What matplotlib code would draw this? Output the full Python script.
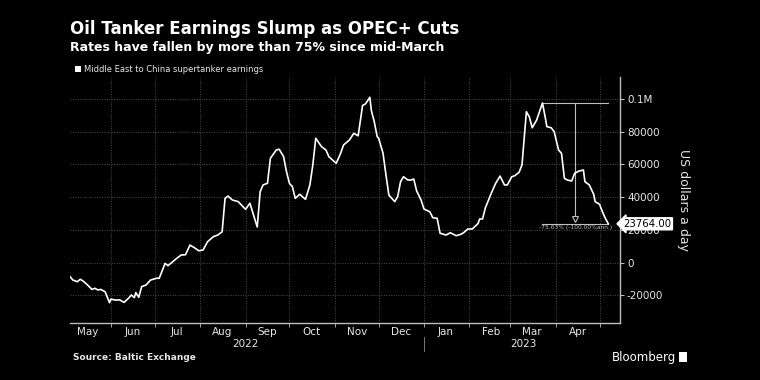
import matplotlib
matplotlib.use('Agg')
import matplotlib.pyplot as plt
import matplotlib.dates as mdates
import matplotlib.transforms as mtransforms
from matplotlib.patches import Rectangle
from matplotlib.ticker import MultipleLocator, FuncFormatter, NullFormatter
import pandas as pd

# Middle East to China supertanker earnings (US dollars a day)
dates = [
    "2022-05-04", "2022-05-06", "2022-05-09", "2022-05-11", "2022-05-13", "2022-05-16",
    "2022-05-19", "2022-05-21", "2022-05-23", "2022-05-25", "2022-05-28", "2022-05-31",
    "2022-06-01", "2022-06-04", "2022-06-07", "2022-06-10", "2022-06-13", "2022-06-15",
    "2022-06-17", "2022-06-18", "2022-06-20", "2022-06-22", "2022-06-25", "2022-06-28",
    "2022-07-02", "2022-07-04", "2022-07-08", "2022-07-10", "2022-07-14", "2022-07-16",
    "2022-07-19", "2022-07-22", "2022-07-25", "2022-07-28", "2022-07-31", "2022-08-03",
    "2022-08-06", "2022-08-10", "2022-08-13", "2022-08-16", "2022-08-18", "2022-08-20",
    "2022-08-23", "2022-08-27", "2022-09-01", "2022-09-04", "2022-09-09", "2022-09-11",
    "2022-09-13", "2022-09-16", "2022-09-18", "2022-09-22", "2022-09-24", "2022-09-27",
    "2022-09-29", "2022-10-01", "2022-10-03", "2022-10-05", "2022-10-08", "2022-10-12",
    "2022-10-15", "2022-10-17", "2022-10-19", "2022-10-23", "2022-10-26", "2022-10-28",
    "2022-11-02", "2022-11-05", "2022-11-07", "2022-11-11", "2022-11-14", "2022-11-17",
    "2022-11-20", "2022-11-22", "2022-11-25", "2022-11-26", "2022-11-28", "2022-11-30",
    "2022-12-01", "2022-12-04", "2022-12-06", "2022-12-08", "2022-12-12", "2022-12-14",
    "2022-12-16", "2022-12-18", "2022-12-21", "2022-12-23", "2022-12-25", "2022-12-27",
    "2022-12-30", "2023-01-01", "2023-01-05", "2023-01-07", "2023-01-10", "2023-01-12",
    "2023-01-16", "2023-01-19", "2023-01-23", "2023-01-26", "2023-01-28", "2023-01-31",
    "2023-02-03", "2023-02-07", "2023-02-08", "2023-02-10", "2023-02-12", "2023-02-16",
    "2023-02-19", "2023-02-22", "2023-02-25", "2023-02-27", "2023-03-02", "2023-03-04",
    "2023-03-07", "2023-03-09", "2023-03-12", "2023-03-14", "2023-03-16", "2023-03-19",
    "2023-03-23", "2023-03-25", "2023-03-26", "2023-03-29", "2023-03-31", "2023-04-03",
    "2023-04-05", "2023-04-07", "2023-04-09", "2023-04-12", "2023-04-14", "2023-04-17",
    "2023-04-20", "2023-04-21", "2023-04-24", "2023-04-27", "2023-04-28", "2023-05-01",
    "2023-05-03", "2023-05-05", "2023-05-07",
]
earnings = [
    -8500, -10600, -11600, -10100, -11200, -13600,
    -16300, -15600, -16600, -16300, -17700, -24400,
    -22200, -22800, -22700, -24200, -21700, -19700,
    -21300, -18200, -21100, -14600, -13600, -10600,
    -9500, -9500, -400, -1800, 1200, 2700,
    4700, 4900, 10800, 9200, 7300, 7800,
    12800, 15900, 16900, 18900, 39300, 40700,
    38300, 37300, 32600, 36300, 21800, 43400,
    47500, 48500, 63800, 68800, 69300, 64800,
    55600, 48500, 46500, 39300, 41800, 38700,
    47500, 59700, 76000, 70800, 68800, 64700,
    60700, 66800, 71900, 74900, 79000, 77500,
    96000, 97000, 101000, 93000, 86100, 77000,
    76000, 66800, 53600, 41300, 37300, 40300,
    49500, 52500, 50500, 50500, 51100, 43800,
    38300, 32800, 31100, 27500, 27100, 18000,
    16900, 18300, 16500, 17300, 18300, 20600,
    20600, 24000, 26700, 26700, 33600, 42400,
    48500, 52900, 47500, 47500, 52500, 53100,
    55200, 59700, 92200, 89100, 82400, 87100,
    97513, 88200, 83100, 82400, 80000, 68800,
    66800, 51500, 50500, 49900, 54600, 56000,
    56600, 49500, 47500, 41800, 37300, 35700,
    31100, 27100, 23764,
]
years = ["2022", "2023"]
# the change bracket runs from the mid-March high
bracket_from = "2023-03-01"

df = pd.DataFrame({"date": pd.to_datetime(dates), "earnings": earnings})

bg = "black"
fg = "#e6e6e6"
grid_c = "#4a4a4a"

fig = plt.figure(figsize=(7.6, 3.8), dpi=100, facecolor=bg)
ax = fig.add_axes([70 / 760, 57 / 380, 550 / 760, 246 / 380], facecolor=bg)

# the series
ax.plot(df["date"], df["earnings"], color="white", lw=1.2, zorder=4)

# axes limits
ax.set_xlim(pd.Timestamp("2022-05-04"), pd.Timestamp("2023-05-15"))
ax.set_ylim(-36800, 113400)

# spines: only bottom and right
for s in ["top", "left"]:
    ax.spines[s].set_visible(False)
for s in ["bottom", "right"]:
    ax.spines[s].set_color("#bdbdbd")
    ax.spines[s].set_linewidth(1.0)

# y axis on the right
ax.yaxis.tick_right()
ax.yaxis.set_major_locator(MultipleLocator(20000))
ax.yaxis.set_major_formatter(FuncFormatter(
    lambda v, p: f"{v / 1e6:g}M" if abs(v) >= 100000 else f"{v:.0f}"))
ax.tick_params(axis="y", colors="#bdbdbd", labelcolor=fg, labelsize=7.5,
               length=3, width=0.8, pad=2)
ax.set_ylabel("US dollars a day", color=fg, fontsize=9, rotation=270)
ax.yaxis.set_label_position("right")
ax.yaxis.set_label_coords(1.128, 0.5)

# x axis: gridlines at month starts, labels in the middle of each month
ax.xaxis.set_major_locator(mdates.MonthLocator())
ax.xaxis.set_major_formatter(NullFormatter())
ax.xaxis.set_minor_locator(mdates.MonthLocator(bymonthday=16))
ax.xaxis.set_minor_formatter(mdates.DateFormatter("%b"))
ax.tick_params(axis="x", which="major", colors="#bdbdbd", length=3, width=0.6)
ax.tick_params(axis="x", which="minor", length=0, labelcolor=fg,
               labelsize=7.5, pad=3)

# dotted grid
ax.grid(True, which="major", color=grid_c, linestyle=(0, (1, 1.5)), lw=0.7)
ax.set_axisbelow(True)

# year labels under the months
blend = mtransforms.blended_transform_factory(ax.transData, ax.transAxes)
ax.text(pd.Timestamp("2022-09-01"), -0.085, years[0], transform=blend,
        ha="center", va="center", color=fg, fontsize=7.5)
ax.text(pd.Timestamp("2023-03-10"), -0.085, years[1], transform=blend,
        ha="center", va="center", color=fg, fontsize=7.5)
ax.plot([pd.Timestamp("2023-01-01")] * 2, [-0.055, -0.115], transform=blend,
        color="#777777", lw=0.7, clip_on=False)

# peak-to-last change bracket
recent = df[df["date"] >= bracket_from]
peak_i = recent["earnings"].idxmax()
peak_d, peak_v = df["date"][peak_i], df["earnings"][peak_i]
last_d, last_v = df["date"].iloc[-1], df["earnings"].iloc[-1]
mid_d = peak_d + (last_d - peak_d) / 2
chg = (last_v / peak_v - 1) * 100
ann_c = "#bfbfbf"
ax.plot([peak_d, last_d], [peak_v, peak_v], color=ann_c, lw=0.8, zorder=3)
ax.plot([peak_d, last_d], [last_v, last_v], color=ann_c, lw=0.8, zorder=3)
ax.plot([mid_d, mid_d], [peak_v, last_v + 3000], color=ann_c, lw=0.8, zorder=3)
ax.plot([mid_d], [last_v + 3000], marker="v", ms=5, mfc=bg, mec=ann_c,
        mew=0.8, zorder=3)
ax.text(mid_d, last_v - 800, f"{chg:.2f}% (-100.00%ann.)", color=ann_c,
        fontsize=4.3, ha="center", va="top", zorder=3)

# last value tag on the axis
tag_t = mtransforms.blended_transform_factory(ax.transAxes, ax.transData)
ax.text(1.006, last_v, f"{last_v:.2f}", transform=tag_t, color="black",
        fontsize=7.3, ha="left", va="center", zorder=10, clip_on=False,
        bbox=dict(boxstyle="larrow,pad=0.1", fc="white", ec="white"))

# titles and legend
fig.text(70 / 760, 1 - 29 / 380, "Oil Tanker Earnings Slump as OPEC+ Cuts",
         color="white", fontsize=12, fontweight="bold", va="center")
fig.text(70 / 760, 1 - 47 / 380,
         "Rates have fallen by more than 75% since mid-March",
         color="white", fontsize=9, fontweight="bold", va="center")
fig.patches.append(Rectangle((75 / 760, 1 - 72 / 380), 6 / 760, 6 / 380,
                             transform=fig.transFigure, fc="white", ec="none"))
fig.text(84 / 760, 1 - 69 / 380, "Middle East to China supertanker earnings",
         color=fg, fontsize=6, va="center")

# footer
fig.text(73 / 760, 1 - 357 / 380, "Source: Baltic Exchange", color=fg,
         fontsize=6.5, fontweight="bold", va="center")
fig.text(612 / 760, 1 - 357 / 380, "Bloomberg", color="white",
         fontsize=8.5, va="center")
fig.patches.append(Rectangle((679 / 760, 1 - 362 / 380), 8 / 760, 10 / 380,
                             transform=fig.transFigure, fc="white", ec="none"))

fig.savefig("out.png", dpi=100, facecolor=bg)
